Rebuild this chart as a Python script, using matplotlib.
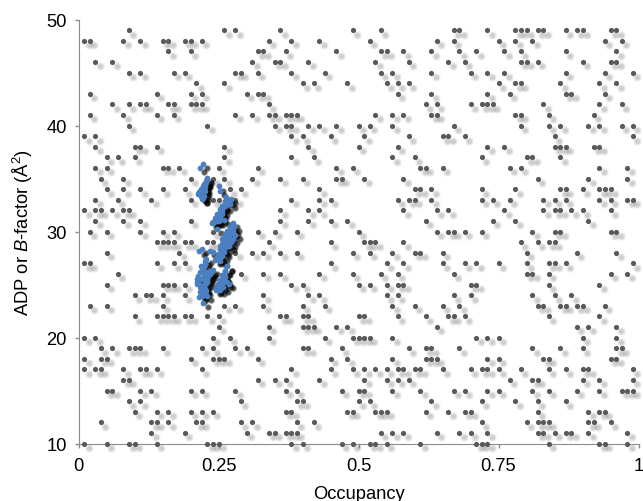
import numpy as np
import matplotlib
matplotlib.use('Agg')
import matplotlib.pyplot as plt
from matplotlib.transforms import offset_copy

# occupancy (in 1/100) of the grey points, one list per integer ADP value
occ_10 = [1, 5, 9, 10, 14, 23, 24, 25, 38, 40, 47, 49, 52, 53, 55, 61, 71, 72, 73, 84, 93, 94, 98]
occ_11 = [13, 19, 30, 34, 35, 37, 38, 39, 54, 56, 58, 64, 68, 70, 73, 82, 83, 85, 87, 88, 91, 98]
occ_12 = [4, 13, 14, 16, 21, 22, 29, 31, 39, 42, 72, 80, 82, 83, 84, 91, 92, 95]
occ_13 = [10, 14, 16, 20, 22, 24, 37, 38, 48, 49, 53, 54, 55, 62, 66, 69, 70, 82, 91, 93, 94]
occ_14 = [9, 11, 29, 39, 40, 50, 52, 63, 72, 78, 82, 87]
occ_15 = [5, 6, 11, 13, 20, 22, 28, 37, 39, 47, 50, 51, 56, 61, 67, 69, 73, 75, 81, 84, 89, 93, 97, 98, 99]
occ_16 = [8, 9, 32, 35, 37, 43, 51, 55, 57, 59, 77, 81, 82, 90, 93, 99]
occ_17 = [1, 3, 4, 8, 11, 12, 14, 22, 38, 45, 49, 51, 53, 55, 57, 58, 60, 61, 65, 70, 72, 73, 75, 79, 84, 87, 90, 91, 99]
occ_18 = [1, 4, 5, 20, 24, 25, 26, 32, 45, 48, 56, 62, 63, 64, 73, 75, 83, 84, 95, 96]
occ_19 = [4, 6, 9, 10, 11, 15, 22, 24, 28, 30, 40, 41, 47, 59, 62, 63, 68, 81, 86, 90, 96, 97]
occ_20 = [1, 3, 24, 27, 34, 44, 49, 50, 51, 52, 56, 71, 73, 75, 90, 96]
occ_21 = [25, 34, 40, 41, 42, 46, 48, 64, 89, 91, 96]
occ_22 = [10, 14, 15, 16, 17, 19, 20, 23, 25, 36, 37, 40, 41, 50, 51, 57, 62, 66, 67, 69, 84, 93]
occ_23 = [2, 5, 15, 26, 28, 33, 40, 44, 56, 60, 65, 68, 82, 83, 86, 87, 89, 90, 94]
occ_24 = [10, 12, 13, 15, 19, 33, 41, 43, 55, 57, 67, 70, 81, 85, 88]
occ_25 = [5, 15, 16, 17, 19, 38, 40, 50, 52, 55, 57, 58, 70, 71, 84, 93]
occ_26 = [7, 29, 33, 36, 43, 49, 54, 57, 67, 80, 81, 84, 95, 98]
occ_27 = [1, 2, 14, 17, 19, 45, 55, 58, 65, 69, 71, 75, 80, 84, 85, 87, 99]
occ_28 = [5, 18, 28, 31, 33, 36, 39, 49, 52, 56, 60, 61, 65, 80, 89, 96]
occ_29 = [14, 15, 16, 17, 19, 20, 23, 24, 34, 45, 51, 52, 53, 58, 79, 82, 84, 85]
occ_30 = [2, 5, 11, 15, 17, 24, 32, 35, 39, 50, 64, 66, 67, 69, 72, 81, 85, 86, 95, 96]
occ_31 = [3, 8, 11, 20, 36, 41, 45, 48, 62, 74, 78, 91]
occ_32 = [1, 3, 4, 6, 8, 9, 36, 41, 43, 58, 64, 66, 76, 83, 85, 86, 88, 90, 95]
occ_33 = [3, 7, 13, 20, 24, 25, 28, 38, 43, 45, 57, 59, 60, 63, 72, 74, 77, 83, 85, 87, 93, 95, 98, 99]
occ_34 = [5, 8, 11, 15, 19, 27, 29, 43, 60, 61, 63, 72, 78, 86, 87, 90, 93, 94, 95]
occ_35 = [4, 8, 20, 24, 26, 31, 36, 40, 46, 47, 51, 58, 82, 91, 98]
occ_36 = [3, 5, 15, 16, 18, 25, 32, 46, 49, 61, 62, 65, 77, 79, 93, 98]
occ_37 = [5, 7, 10, 26, 38, 42, 56, 60, 72, 80, 81, 86]
occ_38 = [3, 10, 11, 14, 26, 41, 50, 57, 73, 76, 85, 86, 87, 92, 93]
occ_39 = [1, 3, 38, 40, 45, 51, 59, 65, 66, 69, 85, 99]
occ_40 = [9, 23, 35, 37, 38, 41, 43, 46, 50, 52, 56, 67, 79, 84, 86, 91, 93, 97, 99]
occ_41 = [2, 8, 14, 17, 28, 31, 34, 35, 37, 38, 39, 53, 56, 58, 63, 64, 78, 79, 84, 92]
occ_42 = [6, 9, 11, 12, 16, 17, 20, 21, 22, 34, 62, 64, 70, 72, 73, 74, 83, 93, 97]
occ_43 = [2, 14, 20, 22, 30, 32, 33, 57, 63, 73, 77, 87, 88, 94]
occ_44 = [21, 26, 40, 42, 48, 55, 57, 59, 75, 78, 79, 86, 93, 96]
occ_45 = [9, 11, 17, 19, 28, 29, 32, 38, 44, 54, 56, 63, 70, 73, 76, 87, 94, 99]
occ_46 = [3, 6, 31, 35, 36, 41, 53, 59, 66, 69, 79, 80, 82, 90, 95, 96]
occ_47 = [16, 20, 32, 33, 37, 46, 54, 55, 58, 63, 68, 71, 76, 79, 87, 96]
occ_48 = [1, 2, 8, 11, 15, 16, 19, 20, 22, 34, 38, 43, 52, 64, 67, 75, 78, 81, 94, 97]
occ_49 = [9, 26, 28, 36, 49, 54, 67, 68, 73, 78, 79, 80, 82, 83, 87, 89, 90, 95, 96]

rows = [occ_10, occ_11, occ_12, occ_13, occ_14, occ_15, occ_16, occ_17, occ_18, occ_19,
        occ_20, occ_21, occ_22, occ_23, occ_24, occ_25, occ_26, occ_27, occ_28, occ_29,
        occ_30, occ_31, occ_32, occ_33, occ_34, occ_35, occ_36, occ_37, occ_38, occ_39,
        occ_40, occ_41, occ_42, occ_43, occ_44, occ_45, occ_46, occ_47, occ_48, occ_49]

# blue cluster, clump by clump from top to bottom
blue_occ = [.222, .217,
            .229, .227, .225, .222, .219, .216, .214, .218, .221, .226, .223, .224,
            .2288, .2241, .2199, .2152, .2229, .2187, .2259, .2217, .2271,
            .250, .252,
            .263, .268, .272, .271, .262,
            .257, .254, .252, .249, .246, .241, .238, .256, .253, .259, .250, .262,
            .2574, .2527, .2479, .2437, .2396, .2527, .2467, .2568,
            .247,
            .275, .271, .278, .266, .274, .262, .269, .280, .257, .266, .275, .256,
            .263, .272, .253, .260, .250, .257, .244, .269, .247, .253,
            .2735, .2675, .2616, .2705, .2646, .2586, .2527, .2616, .2556, .2497, .2586, .2527, .2467, .2765,
            .220, .216, .234, .241,
            .228, .226, .218, .220, .214, .211, .223, .217, .228, .235, .240, .232,
            .226, .223, .218, .221, .216, .229, .223, .230, .220, .226, .235,
            .2259, .2211, .2169, .2122, .2110, .2241, .2199, .2169, .2318, .2288, .2259, .2229, .2199, .2300, .2169, .2277,
            .266, .262, .257, .253, .249, .246, .262, .256, .268, .259, .252,
            .2658, .2616, .2574, .2527, .2479, .2455, .2616, .2556, .2646, .2586]
blue_adp = [36.37, 36.02,
            35.02, 34.73, 34.48, 34.26, 34.01, 33.76, 33.54, 33.38, 33.07, 33.85, 34.01, 33.38,
            34.95, 34.48, 34.01, 33.70, 33.70, 33.32, 34.17, 33.13, 34.64,
            34.26, 33.85,
            33.22, 32.91, 33.07, 32.59, 32.37,
            32.44, 32.12, 31.81, 31.56, 31.24, 30.93, 30.80, 31.65, 31.34, 31.12, 31.02, 32.91,
            32.44, 32.12, 31.65, 31.24, 30.86, 31.65, 31.02, 31.97,
            30.24,
            30.80, 30.39, 30.49, 30.08, 29.92, 29.67, 29.45, 29.67, 29.29, 28.98, 29.29, 28.82,
            28.51, 28.98, 28.35, 28.03, 27.88, 27.66, 27.34, 28.66, 27.56, 27.25,
            30.39, 30.08, 29.76, 29.76, 29.29, 28.98, 28.60, 28.82, 28.35, 27.88, 28.19, 27.56, 27.41, 30.08,
            28.35, 28.19, 28.19, 28.10,
            27.41, 26.93, 26.78, 26.31, 25.83, 25.20, 26.46, 25.52, 26.15, 26.31, 26.40, 25.83,
            25.36, 24.89, 24.58, 24.26, 23.79, 23.95, 23.25, 25.52, 23.95, 24.58, 26.00,
            27.25, 26.62, 26.15, 25.52, 25.05, 25.99, 25.52, 24.95, 26.15, 25.68, 25.05, 24.58, 24.10, 25.20, 24.26, 24.42,
            26.71, 26.31, 25.90, 25.46, 25.05, 24.58, 25.36, 24.89, 25.05, 25.68, 24.51,
            26.71, 26.31, 25.83, 25.36, 24.89, 24.51, 25.68, 25.14, 25.20, 24.73]

x_ticks = [0, 0.25, 0.5, 0.75, 1]
x_labels = ['0', '0.25', '0.5', '0.75', '1']
y_ticks = [10, 20, 30, 40, 50]

plt.rcParams['font.family'] = ['Liberation Sans', 'DejaVu Sans']
plt.rcParams['mathtext.fontset'] = 'custom'
plt.rcParams['mathtext.it'] = 'Liberation Sans:italic'
plt.rcParams['mathtext.rm'] = 'Liberation Sans'

fig = plt.figure(figsize=(6.43, 5.02), dpi=100)
ax = fig.add_axes([78.5 / 643, 1 - 444.5 / 502, 560 / 643, 424 / 502])

gray_x = np.concatenate([np.array(r) / 100 for r in rows])
gray_y = np.concatenate([np.full(len(r), 10 + i) for i, r in enumerate(rows)])

shadow = offset_copy(ax.transData, fig, x=4.4, y=-4.4, units='dots')

# soft shadows, stacked discs because scatter has no blur
for s in [38, 26, 16, 8]:
    ax.scatter(gray_x, gray_y, s=s, c='black', alpha=0.05, lw=0, transform=shadow, clip_on=False, zorder=2)
ax.scatter(gray_x, gray_y, s=14, c='#595959', lw=0, clip_on=False, zorder=3)

for s in [24, 16, 10]:
    ax.scatter(blue_occ, blue_adp, s=s, c='black', alpha=0.3, lw=0, transform=shadow, zorder=4)
ax.scatter(blue_occ, blue_adp, s=17, c='#4a7fc1', lw=0, zorder=5)

ax.set_xlim(0, 1)
ax.set_ylim(10, 50)
ax.set_xticks(x_ticks)
ax.set_xticklabels(x_labels)
ax.set_yticks(y_ticks)
ax.tick_params(length=3, width=1, color='#8c8c8c', labelsize=13.2)
ax.tick_params(axis='x', pad=6.5)
ax.tick_params(axis='y', pad=5.4)
ax.spines['top'].set_visible(False)
ax.spines['right'].set_visible(False)
ax.spines['left'].set_color('#8c8c8c')
ax.spines['bottom'].set_color('#8c8c8c')
ax.set_xlabel('Occupancy', fontsize=13.2, labelpad=8)
ax.set_ylabel('ADP or $\\mathit{B}$-factor (Å$^2$)', fontsize=13.2, labelpad=8.5)

fig.savefig('out.png', dpi=100)
